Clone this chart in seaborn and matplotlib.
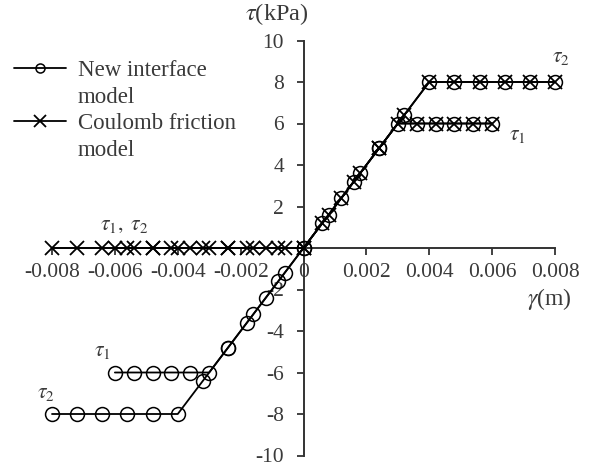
import matplotlib
matplotlib.use("Agg")
import matplotlib.pyplot as plt
from matplotlib.lines import Line2D
from matplotlib.ticker import FixedLocator
import seaborn as sns
import pandas as pd

# ---- data ----
gamma_t1 = [-0.006, -0.0054, -0.0048, -0.0042, -0.0036, -0.003, -0.0024, -0.0018, -0.0012, -0.0006, 0.0,
            0.0006, 0.0012, 0.0018, 0.0024, 0.003, 0.0036, 0.0042, 0.0048, 0.0054, 0.006]
new_t1 = [-6, -6, -6, -6, -6, -6, -4.8, -3.6, -2.4, -1.2, 0,
          1.2, 2.4, 3.6, 4.8, 6, 6, 6, 6, 6, 6]
coul_t1 = [0, 0, 0, 0, 0, 0, 0, 0, 0, 0, 0,
           1.2, 2.4, 3.6, 4.8, 6, 6, 6, 6, 6, 6]

gamma_t2 = [-0.008, -0.0072, -0.0064, -0.0056, -0.0048, -0.004, -0.0032, -0.0024, -0.0016, -0.0008, 0.0,
            0.0008, 0.0016, 0.0024, 0.0032, 0.004, 0.0048, 0.0056, 0.0064, 0.0072, 0.008]
new_t2 = [-8, -8, -8, -8, -8, -8, -6.4, -4.8, -3.2, -1.6, 0,
          1.6, 3.2, 4.8, 6.4, 8, 8, 8, 8, 8, 8]
coul_t2 = [0, 0, 0, 0, 0, 0, 0, 0, 0, 0, 0,
           1.6, 3.2, 4.8, 6.4, 8, 8, 8, 8, 8, 8]

x_ticks = [-0.008, -0.006, -0.004, -0.002, 0, 0.002, 0.004, 0.006, 0.008]
x_tick_labels = ["-0.008", "-0.006", "-0.004", "-0.002", "0", "0.002", "0.004", "0.006", "0.008"]
y_ticks = [-10, -8, -6, -4, -2, 0, 2, 4, 6, 8, 10]
y_tick_labels = ["-10", "-8", "-6", "-4", "-2", "", "2", "4", "6", "8", "10"]
legend_lines = ["New interface", "model", "Coulomb friction", "model"]

sns.set_style("white")
plt.rcParams["font.family"] = ["Liberation Serif", "DejaVu Serif"]
plt.rcParams["mathtext.fontset"] = "stix"
TXT = "#3a3a3a"
FS = 15.5

fig = plt.figure(figsize=(5.94, 4.67), dpi=100)
ax = fig.add_axes([52 / 594, 1 - 455.5 / 467, (555 - 52) / 594, (455.5 - 40.5) / 467])

circ_kw = dict(color="black", marker="o", markersize=10, markerfacecolor="none",
               markeredgecolor="black", markeredgewidth=1.1, linewidth=1.3, sort=False,
               legend=False, clip_on=False)
x_kw = dict(color="black", marker="x", markersize=10.5, markeredgecolor="black",
            markeredgewidth=1.3, linewidth=1.3, sort=False, legend=False, clip_on=False)

d1 = pd.DataFrame({"g": gamma_t1, "n": new_t1, "c": coul_t1})
d2 = pd.DataFrame({"g": gamma_t2, "n": new_t2, "c": coul_t2})

sns.lineplot(data=d1, x="g", y="n", ax=ax, zorder=3, **circ_kw)
sns.lineplot(data=d2, x="g", y="n", ax=ax, zorder=3, **circ_kw)
sns.lineplot(data=d1, x="g", y="c", ax=ax, zorder=4, **x_kw)
sns.lineplot(data=d2, x="g", y="c", ax=ax, zorder=4, **x_kw)

ax.set_xlim(-0.008, 0.008)
ax.set_ylim(-10, 10)
ax.set_xlabel("")
ax.set_ylabel("")

for s in ["top", "right"]:
    ax.spines[s].set_visible(False)
ax.spines["left"].set_position(("data", 0))
ax.spines["bottom"].set_position(("data", 0))
for s in ["left", "bottom"]:
    ax.spines[s].set_color("#333333")
    ax.spines[s].set_linewidth(1.4)
    ax.spines[s].set_zorder(2)

ax.xaxis.set_major_locator(FixedLocator(x_ticks))
ax.set_xticklabels(x_tick_labels)
ax.yaxis.set_major_locator(FixedLocator(y_ticks))
ax.set_yticklabels(y_tick_labels)
ax.tick_params(axis="x", direction="out", length=5, width=1.3, color="#333333",
               labelsize=FS, labelcolor=TXT, pad=6, bottom=True)
ax.tick_params(axis="y", direction="out", length=5, width=1.3, color="#333333",
               labelsize=FS, labelcolor=TXT, pad=9, left=True)
ax.set_facecolor("white")
ax.grid(False)

# axis titles
fig.text(308 / 594, 1 - 14 / 467, r"$\tau$(kPa)", fontsize=17.5, color=TXT, va="center", ha="right")
fig.text(527 / 594, 1 - 299 / 467, r"$\gamma$(m)", fontsize=17, color=TXT, va="center", ha="left")

# annotations
ann_kw = dict(fontsize=FS, color=TXT, ha="center", va="center")
ax.text(0.0082, 9.2, r"$\tau_2$", **ann_kw)
ax.text(0.0068, 5.4, r"$\tau_1$", **ann_kw)
ax.text(-0.0057, 1.1, r"$\tau_1,\ \tau_2$", **ann_kw)
ax.text(-0.0064, -5.0, r"$\tau_1$", **ann_kw)
ax.text(-0.0082, -7.0, r"$\tau_2$", **ann_kw)

blank = Line2D([], [], linestyle="none", marker=None)
handles = [
    Line2D([], [], color="black", linewidth=1.3, marker="o", markersize=6.5,
           markerfacecolor="none", markeredgecolor="black", markeredgewidth=1.1),
    blank,
    Line2D([], [], color="black", linewidth=1.3, marker="x", markersize=9,
           markeredgecolor="black", markeredgewidth=1.3),
    blank,
]
leg = fig.legend(handles, legend_lines, loc="upper left", bbox_to_anchor=(0.0, 1 - 46 / 467),
                 frameon=False, fontsize=16.5, handlelength=2.3, handletextpad=0.5,
                 labelspacing=0.25, borderaxespad=0.2)
for t in leg.get_texts():
    t.set_color(TXT)

fig.savefig("out.png", dpi=100)
